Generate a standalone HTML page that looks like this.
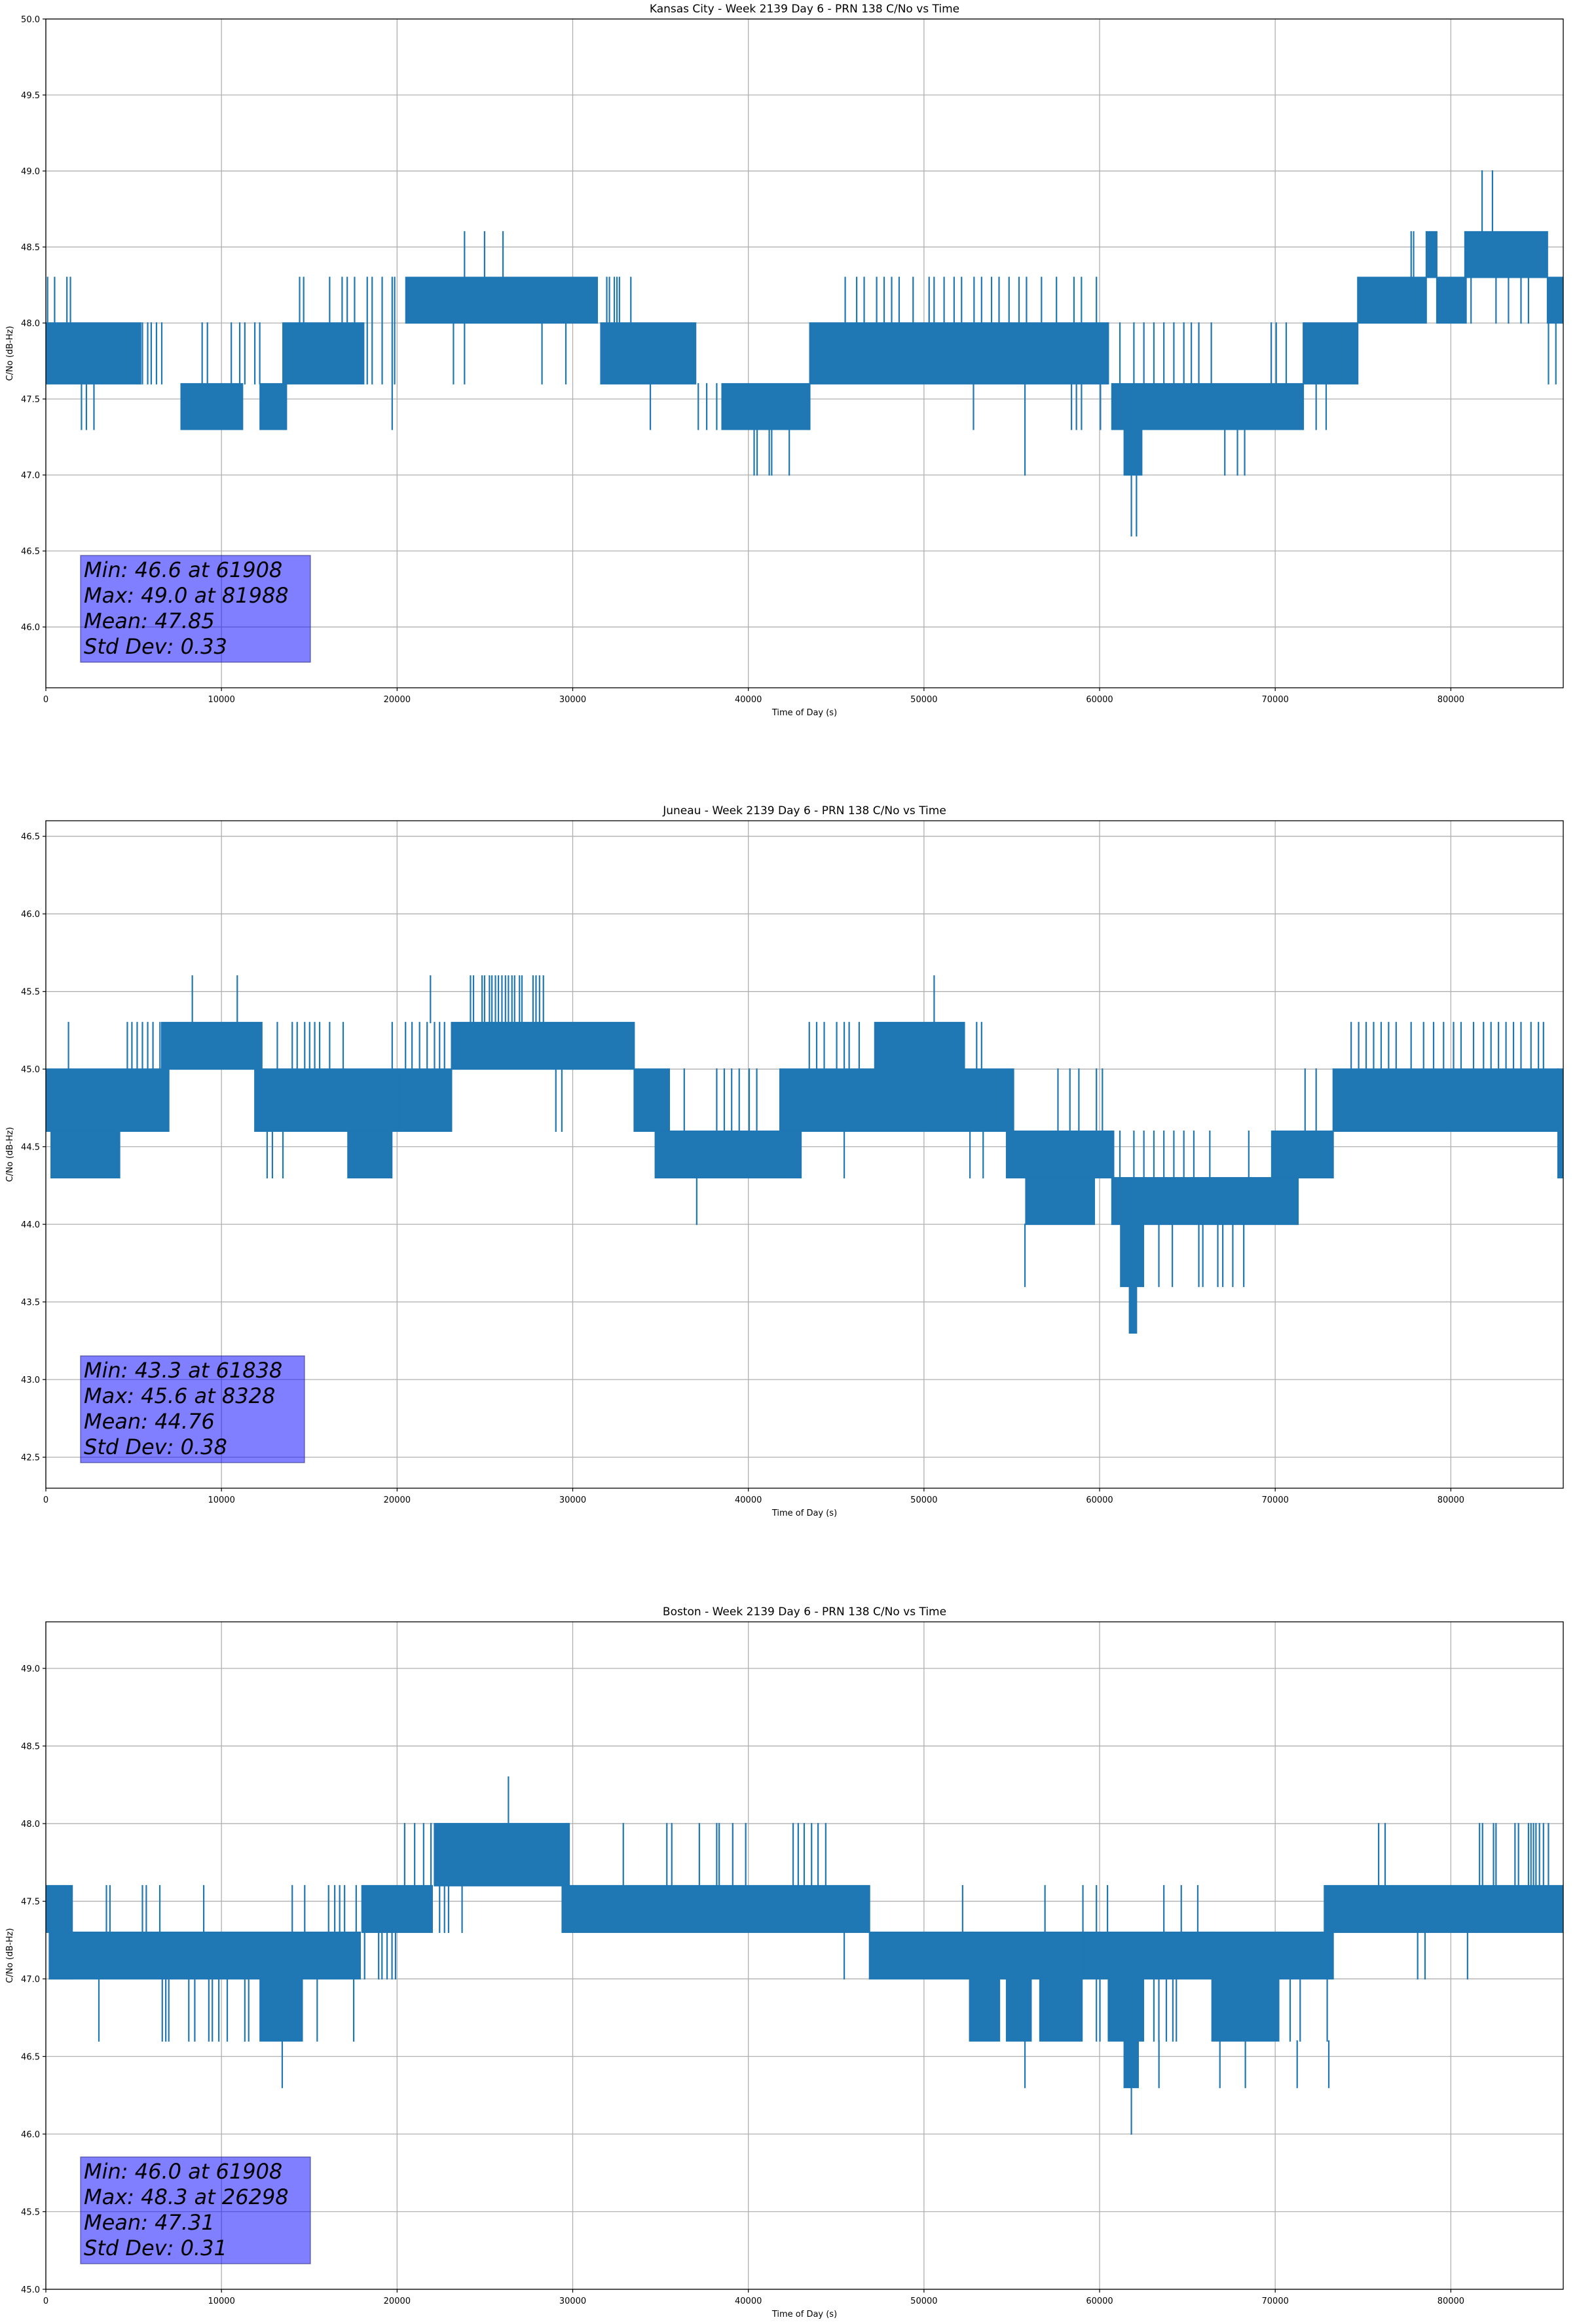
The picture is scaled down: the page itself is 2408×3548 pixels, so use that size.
<!DOCTYPE html>
<html><head><meta charset="utf-8">
<style>
html,body{margin:0;padding:0;background:#fff;}
svg{display:block;font-family:"DejaVu Sans","Liberation Sans",sans-serif;}
</style></head>
<body>
<svg id="fig" xmlns="http://www.w3.org/2000/svg" width="2408" height="3548" viewBox="0 0 2408 3548"></svg>
<script>
// ---------------- data (Kansas City) ----------------
const kcBands = [
 [0,5400,47.6,48.0],[7700,11200,47.3,47.6],[12200,13700,47.3,47.6],[13500,18100,47.6,48.0],
 [20500,31400,48.0,48.3],[31600,37000,47.6,48.0],[38500,43500,47.3,47.6],[43500,60500,47.6,48.0],
 [60700,71600,47.3,47.6],[61400,62400,47.0,47.3],[71600,74700,47.6,48.0],[74700,78600,48.0,48.3],
 [78600,79200,48.3,48.6],[79200,80800,48.0,48.3],[80800,85500,48.3,48.6],[85500,86400,48.0,48.3]
];
const kcSpikes = [
 [100,48.0,48.3],[500,48.0,48.3],[1200,48.0,48.3],[1400,48.0,48.3],
 [2030,47.3,47.6],[2310,47.3,47.6],[2740,47.3,47.6],
 [5500,47.6,48.0],[5800,47.6,48.0],[6000,47.6,48.0],[6300,47.6,48.0],[6600,47.6,48.0],
 [8900,47.6,48.0],[9200,47.6,48.0],[10560,47.6,48.0],[11040,47.6,48.0],[11330,47.6,48.0],[11900,47.6,48.0],[12180,47.6,48.0],
 [14450,48.0,48.3],[14680,48.0,48.3],[16160,48.0,48.3],[16870,48.0,48.3],[17160,48.0,48.3],[17580,48.0,48.3],
 [18300,47.6,48.3],[18580,47.6,48.3],[19150,47.6,48.3],[19720,47.3,48.3],[19860,47.6,48.3],
 [23210,47.6,48.0],[23840,47.6,48.0],[28250,47.6,48.0],[29610,47.6,48.0],
 [23840,48.3,48.6],[24980,48.3,48.6],[26030,48.3,48.6],
 [31940,48.0,48.3],[32090,48.0,48.3],[32370,48.0,48.3],[32520,48.0,48.3],[32660,48.0,48.3],[33310,48.0,48.3],
 [34420,47.3,47.6],[37150,47.3,47.6],[37630,47.3,47.6],[38200,47.3,47.6],
 [40330,47.0,47.3],[40500,47.0,47.3],[41190,47.0,47.3],[41330,47.0,47.3],[42330,47.0,47.3],
 [55750,47.0,47.6],[52820,47.3,47.6],
 [45515,48.0,48.3],[46169,48.0,48.3],[46595,48.0,48.3],[47306,48.0,48.3],[47733,48.0,48.3],[48160,48.0,48.3],
 [48586,48.0,48.3],[49382,48.0,48.3],[50293,48.0,48.3],[50577,48.0,48.3],[51146,48.0,48.3],[51715,48.0,48.3],
 [52141,48.0,48.3],[52852,48.0,48.3],[53279,48.0,48.3],[53848,48.0,48.3],[54275,48.0,48.3],[54843,48.0,48.3],
 [55412,48.0,48.3],[55839,48.0,48.3],[56692,48.0,48.3],[57545,48.0,48.3],[58540,48.0,48.3],[58967,48.0,48.3],[59820,48.0,48.3],
 [58400,47.3,47.6],[58680,47.3,47.6],[58970,47.3,47.6],[60050,47.3,47.6],
 [61810,46.6,47.0],[62100,46.6,47.0],
 [67130,47.0,47.3],[67850,47.0,47.3],[68260,47.0,47.3],
 [61157,47.6,48.0],[61953,47.6,48.0],[62522,47.6,48.0],[63091,47.6,48.0],[63660,47.6,48.0],[64228,47.6,48.0],
 [64797,47.6,48.0],[65224,47.6,48.0],[65650,47.6,48.0],[66361,47.6,48.0],[69774,47.6,48.0],[70058,47.6,48.0],[70627,47.6,48.0],
 [72330,47.3,47.6],[72900,47.3,47.6],
 [77740,48.3,48.6],[77880,48.3,48.6],
 [81780,48.6,49.0],[82370,48.6,49.0],
 [80866,48.0,48.3],[81150,48.0,48.3],[82572,48.0,48.3],[83283,48.0,48.3],[83994,48.0,48.3],[84420,48.0,48.3],
 [85560,47.6,48.0],[85980,47.6,48.0]
];
const kcYTicks = [46.0,46.5,47.0,47.5,48.0,48.5,49.0,49.5,50.0];
const kcStats = ["Min: 46.6 at 61908","Max: 49.0 at 81988","Mean: 47.85","Std Dev: 0.33"];

// ---------------- data (Juneau) ----------------
const juBands = [
 [0,7000,44.6,45.0],[300,4200,44.3,44.6],[6600,12300,45.0,45.3],[11900,20100,44.6,45.0],
 [17200,19700,44.3,44.6],[20100,23100,44.6,45.0],[23100,33500,45.0,45.3],[33500,35500,44.6,45.0],
 [34700,43000,44.3,44.6],[41800,55100,44.6,45.0],[47200,52300,45.0,45.3],[54700,60800,44.3,44.6],
 [55800,59700,44.0,44.3],[60700,71300,44.0,44.3],[61200,62500,43.6,44.0],[61700,62100,43.3,43.6],
 [69800,73300,44.3,44.6],[73300,86100,44.6,45.0],[86100,86400,44.3,45.0]
];
const juSpikes = [
 [1290,45.0,45.3],[4640,45.0,45.3],[4900,45.0,45.3],[5200,45.0,45.3],[5500,45.0,45.3],[5800,45.0,45.3],[6100,45.0,45.3],[6500,45.0,45.3],
 [8340,45.3,45.6],[10900,45.3,45.6],[21900,45.3,45.6],
 [13180,45.0,45.3],[14030,45.0,45.3],[14310,45.0,45.3],[14740,45.0,45.3],[15020,45.0,45.3],[15310,45.0,45.3],[15590,45.0,45.3],[16160,45.0,45.3],[16930,45.0,45.3],
 [19720,45.0,45.3],[20480,45.0,45.3],[20850,45.0,45.3],[21280,45.0,45.3],[21710,45.0,45.3],[22130,45.0,45.3],[22420,45.0,45.3],[22700,45.0,45.3],
 [12600,44.3,44.6],[12900,44.3,44.6],[13500,44.3,44.6],
 [24180,45.3,45.6],[24350,45.3,45.6],[24840,45.3,45.6],[24980,45.3,45.6],[25260,45.3,45.6],[25400,45.3,45.6],[25600,45.3,45.6],
 [25770,45.3,45.6],[25970,45.3,45.6],[26170,45.3,45.6],[26340,45.3,45.6],[26540,45.3,45.6],[26690,45.3,45.6],[26970,45.3,45.6],
 [27110,45.3,45.6],[27740,45.3,45.6],[27910,45.3,45.6],[28110,45.3,45.6],[28330,45.3,45.6],
 [29040,44.6,45.0],[29380,44.6,45.0],
 [37060,44.0,44.3],
 [36350,44.6,45.0],[38200,44.6,45.0],[38630,44.6,45.0],[39050,44.6,45.0],[39480,44.6,45.0],[40050,44.6,45.0],[40480,44.6,45.0],
 [43470,45.0,45.3],[43890,45.0,45.3],[44320,45.0,45.3],[45030,45.0,45.3],[45460,45.0,45.3],[45740,45.0,45.3],[46310,45.0,45.3],[53000,45.0,45.3],[53280,45.0,45.3],
 [50580,45.3,45.6],
 [45460,44.3,44.6],[52620,44.3,44.6],[53370,44.3,44.6],
 [55750,43.6,44.0],
 [57630,44.6,45.0],[58310,44.6,45.0],[58820,44.6,45.0],[59820,44.6,45.0],[60160,44.6,45.0],
 [61157,44.3,44.6],[61953,44.3,44.6],[62522,44.3,44.6],[63091,44.3,44.6],[63660,44.3,44.6],[64228,44.3,44.6],[64797,44.3,44.6],[65366,44.3,44.6],[66276,44.3,44.6],[68494,44.3,44.6],
 [63375,43.6,44.0],[64143,43.6,44.0],[65650,43.6,44.0],[65878,43.6,44.0],[66731,43.6,44.0],[67015,43.6,44.0],[67584,43.6,44.0],[68209,43.6,44.0],
 [71700,44.6,45.0],[72330,44.6,45.0],
 [74324,45.0,45.3],[74751,45.0,45.3],[75178,45.0,45.3],[75604,45.0,45.3],[76031,45.0,45.3],[76457,45.0,45.3],[76884,45.0,45.3],
 [77737,45.0,45.3],[78448,45.0,45.3],[79017,45.0,45.3],[79586,45.0,45.3],[80155,45.0,45.3],[80581,45.0,45.3],[81292,45.0,45.3],
 [81861,45.0,45.3],[82287,45.0,45.3],[82714,45.0,45.3],[83140,45.0,45.3],[83567,45.0,45.3],[83994,45.0,45.3],[84563,45.0,45.3],[84989,45.0,45.3],[85274,45.0,45.3]
];
const juYTicks = [42.5,43.0,43.5,44.0,44.5,45.0,45.5,46.0,46.5];
const juStats = ["Min: 43.3 at 61838","Max: 45.6 at 8328","Mean: 44.76","Std Dev: 0.38"];

// ---------------- data (Boston) ----------------
const boBands = [
 [0,1500,47.3,47.6],[200,1500,47.0,47.3],[300,17900,47.0,47.3],[12200,14600,46.6,47.0],
 [18000,22000,47.3,47.6],[22200,29800,47.6,48.0],[29400,46900,47.3,47.6],[46900,52600,47.0,47.3],
 [52600,59100,47.0,47.3],[52600,54300,46.6,47.0],[54700,56100,46.6,47.0],[56600,59000,46.6,47.0],
 [59100,66400,47.0,47.3],[60500,62500,46.6,47.0],[61400,62200,46.3,46.6],
 [66400,70200,46.6,47.3],[70200,73300,47.0,47.3],[72800,86400,47.3,47.6]
];
const boSpikes = [
 [3450,47.3,47.6],[3650,47.3,47.6],[5500,47.3,47.6],[5720,47.3,47.6],[6490,47.3,47.6],[8990,47.3,47.6],
 [14030,47.3,47.6],[14740,47.3,47.6],[16100,47.3,47.6],[16450,47.3,47.6],[16730,47.3,47.6],[17010,47.3,47.6],[17670,47.3,47.6],
 [3020,46.6,47.0],[6630,46.6,47.0],[6830,46.6,47.0],[7000,46.6,47.0],[8140,46.6,47.0],[8480,46.6,47.0],[9280,46.6,47.0],
 [9480,46.6,47.0],[9850,46.6,47.0],[10330,46.6,47.0],[11330,46.6,47.0],[11550,46.6,47.0],[15450,46.6,47.0],[17530,46.6,47.0],
 [13460,46.3,46.6],
 [18150,47.0,47.3],[18950,47.0,47.3],[19140,47.0,47.3],[19430,47.0,47.3],[19710,47.0,47.3],[19910,47.0,47.3],
 [20430,47.6,48.0],[21000,47.6,48.0],[21510,47.6,48.0],[21930,47.6,48.0],[22130,47.6,48.0],
 [26340,48.0,48.3],
 [22420,47.3,47.6],[22700,47.3,47.6],[22930,47.3,47.6],[23700,47.3,47.6],
 [32880,47.6,48.0],[35360,47.6,48.0],[35640,47.6,48.0],[37210,47.6,48.0],[38200,47.6,48.0],[38340,47.6,48.0],[39110,47.6,48.0],
 [39850,47.6,48.0],[42550,47.6,48.0],[42840,47.6,48.0],[43180,47.6,48.0],[43600,47.6,48.0],[43970,47.6,48.0],[44406,47.6,48.0],
 [75889,47.6,48.0],[76258,47.6,48.0],[81633,47.6,48.0],[81804,47.6,48.0],[82430,47.6,48.0],[82572,47.6,48.0],[83653,47.6,48.0],
 [83852,47.6,48.0],[84420,47.6,48.0],[84563,47.6,48.0],[84705,47.6,48.0],[84847,47.6,48.0],[85046,47.6,48.0],[85274,47.6,48.0],[85558,47.6,48.0],
 [45460,47.0,47.3],[46940,47.0,47.3],
 [52200,47.3,47.6],[56890,47.3,47.6],[59050,47.3,47.6],[59820,47.3,47.6],[60450,47.3,47.6],[63660,47.3,47.6],[64650,47.3,47.6],[65590,47.3,47.6],
 [55750,46.3,46.6],[63380,46.3,46.6],[66850,46.3,46.6],[68300,46.3,46.6],[71250,46.3,46.6],[73050,46.3,46.6],
 [61810,46.0,46.6],
 [70850,46.6,47.0],[71420,46.6,47.0],[72960,46.6,47.0],
 [63091,46.6,47.0],[63375,46.6,47.0],[63802,46.6,47.0],[64172,46.6,47.0],[64371,46.6,47.0],[59820,46.6,47.0],[60019,46.6,47.0],
 [78110,47.0,47.3],[78530,47.0,47.3],[80950,47.0,47.3]
];
const boYTicks = [45.0,45.5,46.0,46.5,47.0,47.5,48.0,48.5,49.0];
const boStats = ["Min: 46.0 at 61908","Max: 48.3 at 26298","Mean: 47.31","Std Dev: 0.31"];

const xTicks = [0,10000,20000,30000,40000,50000,60000,70000,80000];

// ---------------- rendering ----------------
const NS = "http://www.w3.org/2000/svg";
const svg = document.getElementById('fig');
const X0 = 70, X1 = 2387, TMAX = 86400;
function xs(t){ return X0 + (t / TMAX) * (X1 - X0); }
function mk(tag, attrs, parent){
  const e = document.createElementNS(NS, tag);
  for (const k in attrs) e.setAttribute(k, attrs[k]);
  (parent || svg).appendChild(e);
  return e;
}

function drawPanel(cfg){
  const g = mk('g', {});
  
  
  const ys = v => cfg.bottom - (v - cfg.ymin) / (cfg.ymax - cfg.ymin) * (cfg.bottom - cfg.top);
  const clipId = cfg.id + '-clip';
  const cp = mk('clipPath', {id: clipId}, g);
  mk('rect', {x: X0, y: cfg.top, width: X1 - X0, height: cfg.bottom - cfg.top}, cp);

  // grid
  const grid = mk('g', {}, g);
  
  
  xTicks.forEach(t => {
    const l = mk('line', {x1: xs(t), x2: xs(t), y1: cfg.top, y2: cfg.bottom, stroke: '#b0b0b0', 'stroke-width': 1.3}, grid);
    
    
  });
  cfg.yticks.forEach(v => {
    const l = mk('line', {x1: X0, x2: X1, y1: ys(v), y2: ys(v), stroke: '#b0b0b0', 'stroke-width': 1.3}, grid);
    
    
  });

  // data
  const dg = mk('g', {'clip-path': 'url(#' + clipId + ')'}, g);
  
  
  cfg.bands.forEach(b => {
    const x = xs(b[0]), w = Math.max(1, xs(b[1]) - xs(b[0]));
    const r = mk('rect', {x: x, y: ys(b[3]), width: w, height: ys(b[2]) - ys(b[3]), fill: '#1f77b4', stroke: '#1f77b4', 'stroke-width': 2}, dg);
    
    
  });
  cfg.spikes.forEach(s => {
    const l = mk('line', {x1: xs(s[0]), x2: xs(s[0]), y1: ys(s[1]) + 1, y2: ys(s[2]) - 1, stroke: '#1f77b4', 'stroke-width': 2.2}, dg);
    
    
  });

  // spines
  const sp = mk('rect', {x: X0, y: cfg.top, width: X1 - X0, height: cfg.bottom - cfg.top, fill: 'none', stroke: '#000', 'stroke-width': 1.3}, g);
  
  

  // ticks
  xTicks.forEach(t => {
    mk('line', {x1: xs(t), x2: xs(t), y1: cfg.bottom, y2: cfg.bottom + 5, stroke: '#000', 'stroke-width': 1.2}, g);
    const tx = mk('text', {x: xs(t), y: cfg.bottom + 22, 'font-size': 13, 'text-anchor': 'middle', fill: '#000'}, g);
    tx.textContent = String(t);
    
    
  });
  cfg.yticks.forEach(v => {
    mk('line', {x1: X0 - 5, x2: X0, y1: ys(v), y2: ys(v), stroke: '#000', 'stroke-width': 1.2}, g);
    const tx = mk('text', {x: X0 - 9, y: ys(v) + 5, 'font-size': 13, 'text-anchor': 'end', fill: '#000'}, g);
    tx.textContent = v.toFixed(1);
    
    
  });

  // labels
  const title = mk('text', {x: (X0 + X1) / 2, y: cfg.top - 10, 'font-size': 17, 'text-anchor': 'middle', fill: '#000'}, g);
  title.textContent = cfg.title;
  
  
  const xl = mk('text', {x: (X0 + X1) / 2, y: cfg.bottom + 42, 'font-size': 13, 'text-anchor': 'middle', fill: '#000'}, g);
  xl.textContent = 'Time of Day (s)';
  
  
  const cy = (cfg.top + cfg.bottom) / 2;
  const yl = mk('text', {x: 19, y: cy, 'font-size': 13, 'text-anchor': 'middle', fill: '#000', transform: 'rotate(-90 19 ' + cy + ')'}, g);
  yl.textContent = 'C/No (dB-Hz)';
  
  

  // stats box
  const bg = mk('g', {}, g);
  
  
  const bt = cfg.bottom - 202;
  const br = mk('rect', {x: 123, y: bt, width: cfg.boxW, height: 163, fill: 'rgba(0,0,255,0.5)', stroke: 'rgba(40,40,120,0.55)', 'stroke-width': 1.5}, bg);
  
  
  cfg.stats.forEach((s, i) => {
    const t = mk('text', {x: 128, y: bt + 33 + i * 39, 'font-size': 32, 'font-style': 'italic', fill: '#000'}, bg);
    t.textContent = s;
    
    
  });
}

drawPanel({id: 'kansas-city', top: 29, bottom: 1050, ymin: 45.6, ymax: 50.0, yticks: kcYTicks, bands: kcBands, spikes: kcSpikes,
  title: 'Kansas City - Week 2139 Day 6 - PRN 138 C/No vs Time', stats: kcStats, boxW: 351});
drawPanel({id: 'juneau', top: 1253, bottom: 2272, ymin: 42.3, ymax: 46.6, yticks: juYTicks, bands: juBands, spikes: juSpikes,
  title: 'Juneau - Week 2139 Day 6 - PRN 138 C/No vs Time', stats: juStats, boxW: 342});
drawPanel({id: 'boston', top: 2476, bottom: 3495, ymin: 45.0, ymax: 49.3, yticks: boYTicks, bands: boBands, spikes: boSpikes,
  title: 'Boston - Week 2139 Day 6 - PRN 138 C/No vs Time', stats: boStats, boxW: 351});
</script>
</body></html>
